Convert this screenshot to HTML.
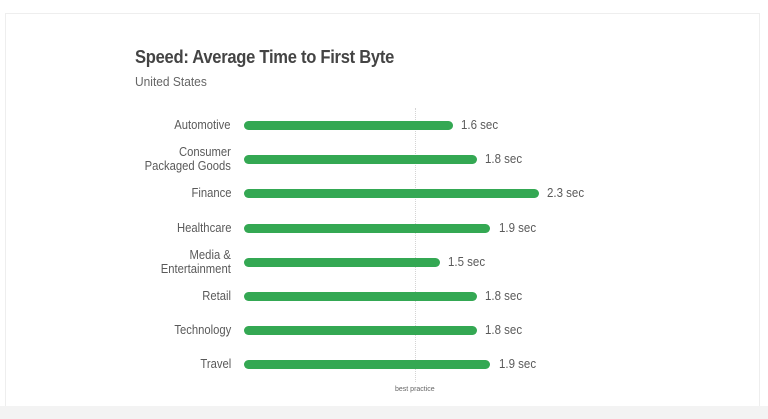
<!DOCTYPE html>
<html><head><style>
body{margin:0;width:768px;height:419px;background:#fff;position:relative;overflow:hidden;font-family:"Liberation Sans",sans-serif;}
.card{position:absolute;left:5px;top:13px;width:753px;height:393px;border:1px solid #eee;background:#fff;}
.foot{position:absolute;left:0;top:406px;width:768px;height:13px;background:#f3f3f3;}
.t{position:absolute;left:135px;top:47px;font-size:18px;color:#444;font-weight:bold;letter-spacing:-0.3px;transform:scaleX(0.92);transform-origin:left;}
.s{position:absolute;left:135px;top:74px;font-size:13px;color:#666;transform:scaleX(0.92);transform-origin:left;}
.l{position:absolute;right:537px;font-size:12.5px;color:#5a5a5a;text-align:right;line-height:14px;transform:scaleX(0.9);transform-origin:right;}
.b{position:absolute;left:244px;height:9px;border-radius:5px;background:#34a853;}
.v{position:absolute;font-size:12.5px;color:#5a5a5a;line-height:14px;transform:scaleX(0.92);transform-origin:left;}
.d{position:absolute;left:415px;top:108px;height:274px;border-left:1px dotted #d4d4d4;}
.bp{position:absolute;left:395px;top:386px;font-size:7px;color:#666;}
</style></head><body>
<div class="card"></div><div class="foot"></div>
<div class="t">Speed: Average Time to First Byte</div>
<div class="s">United States</div>
<div class="d"></div>
<div class="l" style="top:118px">Automotive</div>
<div class="l" style="top:145px">Consumer<br>Packaged Goods</div>
<div class="l" style="top:186px">Finance</div>
<div class="l" style="top:221px">Healthcare</div>
<div class="l" style="top:248px">Media &amp;<br>Entertainment</div>
<div class="l" style="top:289px">Retail</div>
<div class="l" style="top:323px">Technology</div>
<div class="l" style="top:357px">Travel</div>
<div class="b" style="top:121px;width:209px"></div><div class="v" style="top:118px;left:461px">1.6 sec</div>
<div class="b" style="top:155px;width:233px"></div><div class="v" style="top:152px;left:485px">1.8 sec</div>
<div class="b" style="top:189px;width:295px"></div><div class="v" style="top:186px;left:547px">2.3 sec</div>
<div class="b" style="top:224px;width:246px"></div><div class="v" style="top:221px;left:499px">1.9 sec</div>
<div class="b" style="top:258px;width:196px"></div><div class="v" style="top:255px;left:448px">1.5 sec</div>
<div class="b" style="top:292px;width:233px"></div><div class="v" style="top:289px;left:485px">1.8 sec</div>
<div class="b" style="top:326px;width:233px"></div><div class="v" style="top:323px;left:485px">1.8 sec</div>
<div class="b" style="top:360px;width:246px"></div><div class="v" style="top:357px;left:499px">1.9 sec</div>
<div class="bp">best practice</div>
</body></html>
